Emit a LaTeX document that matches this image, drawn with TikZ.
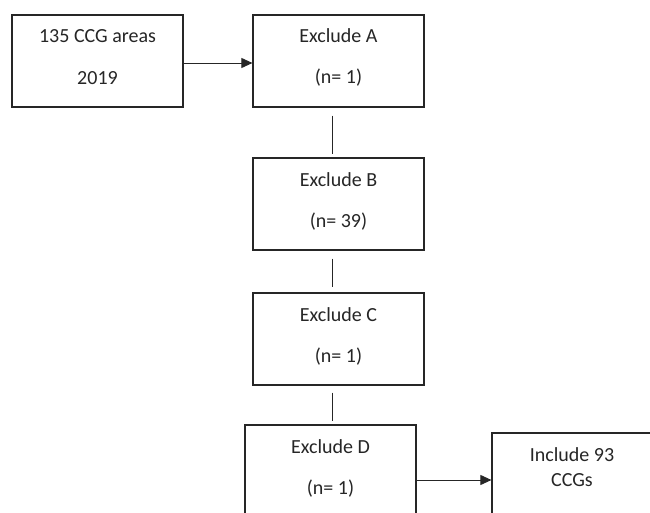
\documentclass[tikz,border=0pt]{standalone}
\usepackage{fontspec}
\setmainfont{Carlito}
\usetikzlibrary{arrows.meta}
\begin{document}
\begin{tikzpicture}[x=1pt,y=-1pt,
  box/.style={draw=black!85, line width=1.2pt, rectangle, inner sep=0pt},
  txt/.style={font=\fontsize{20}{24}\selectfont, text=black!85, inner sep=0pt},
  conn/.style={draw=black!85, line width=0.9pt},
  arr/.style={conn, -{Triangle[length=11pt,width=10pt]}}]
\useasboundingbox (0,0) rectangle (650,513);
\clip (0,0) rectangle (650,513);
\fill[white] (0,0) rectangle (650,513);
% boxes
\node[box, minimum width=171pt, minimum height=92pt] (src) at (97.5,61) {};
\node[box, minimum width=171pt, minimum height=92pt] (A) at (338.5,61) {};
\node[box, minimum width=171pt, minimum height=92pt] (B) at (338.5,204) {};
\node[box, minimum width=171pt, minimum height=92pt] (C) at (338.5,339) {};
\node[box, minimum width=171pt, minimum height=92pt] (D) at (330.5,471) {};
\node[box, minimum width=160pt, minimum height=94pt] (I) at (572,480) {};
% texts
\node[txt] (t1) at (97.5,36) {135 CCG areas};
\node[txt] (t2) at (97.5,78) {2019};
\node[txt] (ta1) at (338.5,36) {Exclude A};
\node[txt] (ta2) at (338.5,78) {(n= 1)};
\node[txt] (tb1) at (338.5,180) {Exclude B};
\node[txt] (tb2) at (338.5,222) {(n= 39)};
\node[txt] (tc1) at (338.5,315) {Exclude C};
\node[txt] (tc2) at (338.5,357) {(n= 1)};
\node[txt] (td1) at (330.5,447) {Exclude D};
\node[txt] (td2) at (330.5,489) {(n= 1)};
\node[txt] (ti1) at (572,455) {Include 93};
\node[txt] (ti2) at (572,480) {CCGs};
% connectors
\draw[arr] (src.east |- 0,63) -- (A.west |- 0,63);
\draw[conn, shorten <=8pt, shorten >=3pt] ([xshift=-6.5pt]A.south) -- ([xshift=-6.5pt]A.south |- B.north);
\draw[conn, shorten <=8pt, shorten >=5pt] ([xshift=-6.5pt]B.south) -- ([xshift=-6.5pt]B.south |- C.north);
\draw[conn, shorten <=7pt, shorten >=3pt] ([xshift=-6.5pt]C.south) -- ([xshift=-6.5pt]C.south |- D.north);
\draw[arr] (I.west -| D.east) -- (I.west);
\end{tikzpicture}
\end{document}
